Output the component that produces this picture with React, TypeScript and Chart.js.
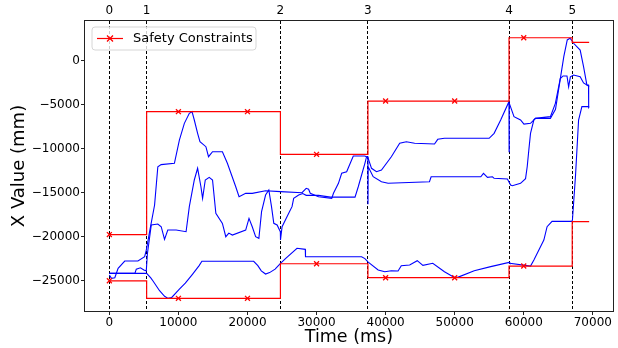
import { useEffect, useRef } from 'react';
import { Chart, registerables } from 'chart.js';

Chart.register(...registerables);

// ---- data ----
const phaseBoundaries = [0, 5400, 24770, 37440, 57870, 67020];
const phaseEnd = 69470;
const phaseLabels = ['0', '1', '2', '3', '4', '5'];
const upperLimits = [-19770, -5770, -10630, -4560, 2650, 2130];
const lowerLimits = [-25030, -27030, -23090, -24680, -23350, -18300];
const markerTimes = [0, 10000, 20000, 30000, 40000, 50000, 60000];
const xTicks = [0, 10000, 20000, 30000, 40000, 50000, 60000, 70000];
const yTicks = [0, -5000, -10000, -15000, -20000, -25000];

const trajectoryA: [number, number][] = [
  [0, -24370], [310, -24750], [790, -24680], [1270, -23610], [2230, -22780], [4140, -22780],
  [5110, -22290], [5350, -21530], [5830, -19440], [6550, -16400], [7020, -12040], [7500, -11800],
  [9420, -11650], [10140, -9000], [10860, -7100], [11580, -5960], [11970, -5770], [12300, -6720],
  [12780, -8240], [13120, -9190], [13980, -9760], [14360, -10900], [14940, -10330], [16370, -10330],
  [17090, -11650], [18300, -14320], [18780, -15460], [19740, -15070], [20690, -15070], [22620, -14770],
  [24780, -14880], [27890, -15000], [28500, -14500], [28850, -14610], [29090, -15070], [30290, -15460],
  [32200, -15640], [32450, -15070], [33170, -13930], [33640, -12790], [34360, -12610], [35320, -10820],
  [37000, -10820], [37440, -11000], [37960, -12220], [38680, -12610], [39400, -12410], [40830, -10900],
  [42040, -9370], [43000, -9190], [44200, -9370], [47080, -9450], [47550, -8920], [48520, -8800],
  [54990, -8800], [55710, -8240], [56660, -6720], [57860, -4630], [57880, -10330], [57900, -4800],
  [58590, -6340], [59540, -6720], [60030, -7180], [60980, -7100], [61700, -6530], [63860, -6530],
  [64600, -5500], [65200, -2500], [65800, 500], [66300, 2400], [66700, 2600], [67000, 2300],
  [67220, 2020], [68170, 1250], [68660, -650], [69140, -2730], [69470, -2900],
];

const trajectoryB: [number, number][] = [
  [0, -24180], [3700, -24180], [3900, -23700], [4500, -23550], [5000, -23800], [5350, -23900],
  [5500, -22000], [6070, -18680], [7020, -18560], [7510, -18870], [7990, -20310], [8460, -19250],
  [9670, -19250], [11110, -19440], [11580, -16590], [12300, -13550], [12780, -12220], [13260, -14320],
  [13500, -15640], [13890, -13550], [14460, -13250], [14940, -13550], [15420, -17350], [16370, -18490],
  [16860, -20010], [17300, -19600], [17810, -19820], [19740, -19250], [20220, -17920], [20690, -18870],
  [21180, -20010], [21650, -20190], [22040, -17160], [22620, -15260], [23090, -14690], [23480, -16590],
  [23810, -18490], [24290, -18680], [24760, -19440], [24780, -20390], [25010, -18870], [25970, -17350],
  [26450, -16590], [26690, -15640], [27410, -15260], [28000, -15100], [28500, -15300], [30290, -15300],
  [32000, -15500], [35570, -15500], [36040, -14320], [37000, -11650], [37240, -10900], [37430, -10900],
  [37450, -16300], [37480, -12040], [38200, -13180], [39400, -13750], [40360, -13930], [46350, -13750],
  [46590, -13180], [53780, -13180], [54170, -12790], [54750, -13250], [55470, -13180], [55710, -13360],
  [57630, -13440], [58100, -14120], [58350, -14200], [59540, -13930], [60260, -13400], [60500, -12040],
  [60740, -10100], [60980, -8240], [61470, -6700], [61700, -6530], [63860, -6340], [64580, -4820],
  [65290, -2000], [65700, -1700], [66260, -1700], [66500, -2930], [66750, -1800], [67220, -1600],
  [68170, -1790], [68660, -2500], [69140, -2730], [69380, -2730], [69400, -5280], [69470, -5200],
];

const trajectoryC: [number, number][] = [
  [0, -24180], [5400, -24180], [6000, -24700], [6300, -25020], [7270, -26160], [8000, -26800],
  [8500, -27030], [9000, -26950], [10140, -25970], [11000, -25300], [12060, -24260], [13000, -23300],
  [13400, -22810], [20900, -22810], [21500, -23300], [22000, -23900], [22620, -24260], [23200, -24100],
  [24000, -23700], [24780, -23040], [25500, -22500], [27170, -21330], [28370, -21450], [28400, -22290],
  [36520, -22290], [37000, -22500], [37480, -22900], [38920, -23800], [39880, -24000], [40830, -23880],
  [41800, -23920], [42270, -23310], [43480, -23230], [44580, -22740], [45400, -23270], [46830, -23040],
  [48520, -24000], [49950, -24640], [50430, -24640], [52830, -23880], [55220, -23420], [57870, -22930],
  [58000, -23040], [60980, -23350], [61470, -22670], [62910, -20390], [63380, -18870], [64100, -18260],
  [66980, -18260], [67050, -18100], [67500, -13000], [67940, -6720], [68420, -5200], [69470, -5200],
];

// ---- helpers ----
const stepPoints = (limits: number[]) => {
  const pts = limits.map((v, i) => ({ x: phaseBoundaries[i], y: v }));
  pts.push({ x: phaseEnd, y: limits[limits.length - 1] });
  return pts;
};
const markerPoints = (limits: number[]) =>
  markerTimes.map((t) => {
    let idx = 0;
    phaseBoundaries.forEach((b, i) => {
      if (b <= t) idx = i;
    });
    return { x: t, y: limits[idx] };
  });
const toXY = (arr: [number, number][]) => arr.map(([x, y]) => ({ x, y }));

const RED = 'rgb(255,0,0)';
const BLUE = 'rgb(0,0,255)';
const FONT = "'DejaVu Sans', sans-serif";

const frameLegendPlugin = {
  id: 'frameLegend',
  afterDatasetsDraw(chart: any) {
    const { ctx, chartArea } = chart;
    ctx.save();
    ctx.strokeStyle = '#222';
    ctx.lineWidth = 1;
    ctx.strokeRect(
      Math.round(chartArea.left) - 0.5,
      Math.round(chartArea.top) - 0.5,
      Math.round(chartArea.right - chartArea.left) + 1,
      Math.round(chartArea.bottom - chartArea.top) + 1
    );
    // legend
    const x = chartArea.left + 7;
    const y = chartArea.top + 6;
    const w = 164;
    const h = 23;
    const r = 3;
    ctx.beginPath();
    ctx.moveTo(x + r, y);
    ctx.lineTo(x + w - r, y);
    ctx.arcTo(x + w, y, x + w, y + r, r);
    ctx.lineTo(x + w, y + h - r);
    ctx.arcTo(x + w, y + h, x + w - r, y + h, r);
    ctx.lineTo(x + r, y + h);
    ctx.arcTo(x, y + h, x, y + h - r, r);
    ctx.lineTo(x, y + r);
    ctx.arcTo(x, y, x + r, y, r);
    ctx.closePath();
    ctx.fillStyle = 'rgba(255,255,255,0.8)';
    ctx.fill();
    ctx.strokeStyle = '#d6d6d6';
    ctx.stroke();
    const cy = y + h / 2;
    ctx.strokeStyle = RED;
    ctx.lineWidth = 1.2;
    ctx.beginPath();
    ctx.moveTo(x + 5, cy);
    ctx.lineTo(x + 31, cy);
    ctx.stroke();
    const mx = x + 18;
    const m = 3;
    ctx.lineWidth = 1.3;
    ctx.beginPath();
    ctx.moveTo(mx - m, cy - m);
    ctx.lineTo(mx + m, cy + m);
    ctx.moveTo(mx + m, cy - m);
    ctx.lineTo(mx - m, cy + m);
    ctx.stroke();
    ctx.fillStyle = '#000';
    ctx.font = `13px ${FONT}`;
    ctx.textBaseline = 'middle';
    ctx.textAlign = 'left';
    ctx.fillText(chart.data.datasets[0].label, x + 41, cy + 0.5);
    ctx.restore();
  },
};

const fmt = (v: number) => (v < 0 ? '\u2212' + Math.abs(v) : String(v));

export default function App() {
  const ref = useRef<HTMLCanvasElement | null>(null);

  useEffect(() => {
    document.body.style.margin = '0';
    const canvas = ref.current;
    if (!canvas) return;
    Chart.defaults.font.family = FONT;
    const xMin = -3525;
    const xMax = 72880;

    const chart = new Chart(canvas, {
      type: 'line',
      data: {
        datasets: [
          {
            label: 'Safety Constraints',
            data: stepPoints(upperLimits),
            stepped: 'before',
            borderColor: RED,
            borderWidth: 1.2,
            pointRadius: 0,
          },
          {
            label: 'lower',
            data: stepPoints(lowerLimits),
            stepped: 'before',
            borderColor: RED,
            borderWidth: 1.2,
            pointRadius: 0,
          },
          {
            label: 'upper markers',
            data: markerPoints(upperLimits),
            showLine: false,
            pointStyle: 'crossRot',
            pointRadius: 3.5,
            borderColor: RED,
            pointBorderWidth: 1.3,
          },
          {
            label: 'lower markers',
            data: markerPoints(lowerLimits),
            showLine: false,
            pointStyle: 'crossRot',
            pointRadius: 3.5,
            borderColor: RED,
            pointBorderWidth: 1.3,
          },
          { label: 'A', data: toXY(trajectoryA), borderColor: BLUE, borderWidth: 1.1, pointRadius: 0 },
          { label: 'B', data: toXY(trajectoryB), borderColor: BLUE, borderWidth: 1.1, pointRadius: 0 },
          { label: 'C', data: toXY(trajectoryC), borderColor: BLUE, borderWidth: 1.1, pointRadius: 0 },
        ],
      },
      options: {
        responsive: false,
        animation: false,
        devicePixelRatio: 1,
        layout: { padding: { left: 0, right: 2, top: 0, bottom: 0 } },
        elements: { line: { tension: 0 } },
        plugins: { legend: { display: false }, tooltip: { enabled: false } },
        scales: {
          x: {
            type: 'linear',
            position: 'bottom',
            min: xMin,
            max: xMax,
            afterBuildTicks: (s: any) => {
              s.ticks = xTicks.map((v) => ({ value: v }));
            },
            afterFit: (s: any) => {
              s.height = 37;
            },
            ticks: {
              autoSkip: false,
              maxRotation: 0,
              padding: 1,
              color: '#000',
              font: { size: 12 },
              callback: (v: any) => String(v),
            },
            grid: { drawOnChartArea: false, drawTicks: true, tickLength: 4, color: '#222' },
            border: { display: false },
            title: {
              display: true,
              text: 'Time (ms)',
              color: '#000',
              font: { size: 17.5 },
              padding: { top: 0, bottom: 0 },
            },
          },
          x2: {
            type: 'linear',
            position: 'top',
            min: xMin,
            max: xMax,
            afterBuildTicks: (s: any) => {
              s.ticks = phaseBoundaries.map((v) => ({ value: v }));
            },
            afterFit: (s: any) => {
              s.height = 21;
            },
            ticks: {
              autoSkip: false,
              maxRotation: 0,
              padding: 3,
              color: '#000',
              font: { size: 12 },
              callback: (_v: any, i: number) => phaseLabels[i],
            },
            grid: {
              drawOnChartArea: true,
              drawTicks: false,
              color: '#000',
              lineWidth: 1,
              borderDash: [3, 2],
            } as any,
            border: { display: false, dash: [3, 2] },
          },
          y: {
            type: 'linear',
            min: -28470,
            max: 4555,
            afterBuildTicks: (s: any) => {
              s.ticks = yTicks.map((v) => ({ value: v }));
            },
            afterFit: (s: any) => {
              s.width = 85;
            },
            ticks: {
              padding: 1,
              color: '#000',
              font: { size: 12 },
              callback: (v: any) => fmt(Number(v)),
            },
            grid: { drawOnChartArea: false, drawTicks: true, tickLength: 4, color: '#222' },
            border: { display: false },
            title: {
              display: true,
              text: 'X Value (mm)',
              color: '#000',
              font: { size: 18 },
              padding: { top: 9, bottom: 0 },
            },
          },
        },
      },
      plugins: [frameLegendPlugin],
    } as any);

    return () => chart.destroy();
  }, []);

  return <canvas ref={ref} width={618} height={348} style={{ display: 'block' }} />;
}
